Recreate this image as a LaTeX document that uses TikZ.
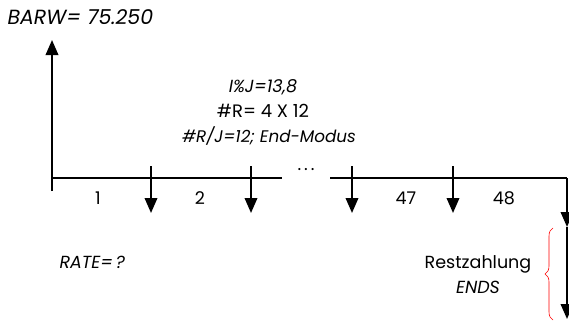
\documentclass[tikz,border=0pt]{standalone}
\usepackage{fontspec}
\setmainfont{Poppins}
\usepackage{xcolor}
\usepackage{tikz}
\usetikzlibrary{arrows.meta, positioning, decorations.pathreplacing}

\begin{document}
\begin{tikzpicture}[x=1pt, y=-1pt, font=\fontsize{17.5}{21}\selectfont,
  flow/.style={line width=2pt, -{Triangle[length=15pt,width=12.5pt]}},
  axis/.style={line width=1.3pt},
  txt/.style={text height=13pt, text depth=4pt}]
\useasboundingbox (0,0) rectangle (569,329);
% time line
\coordinate (t0) at (52,178);
\coordinate (tick) at (52,191);
\coordinate (g1) at (282,178);
\coordinate (g2) at (330,178);
\coordinate (tend) at (567,178);
\coordinate (top) at (52,40);
\draw[axis] (tick) -- (t0) -- (g1);
\draw[axis] (g2) -- (tend);
\node (dots) at (306,170) {.\,.\,.};
\draw[flow] (t0) -- (top);
\node (barw) [anchor=west, font=\fontsize{20.5}{24}\selectfont] at (4,17) {\itshape BARW= 75.250};
% payments
\foreach \x/\n in {151/a1, 251/a2, 352/a47, 453/a48}{
  \coordinate (\n s) at (\x,166);
  \coordinate (\n e) at (\x,213);
  \draw[flow] (\n s) -- (\n e);
}
\foreach \x/\t in {98/1, 200/2, 406/47, 504/48}{
  \node (p\t) at (\x,198) {\t};
}
% last payment and balloon
\coordinate (r1) at (567,227);
\coordinate (r2) at (567,319);
\draw[flow] (tend) -- (r1);
\draw[flow] (r1) -- (r2);
\draw[red, line width=0.6pt, decorate, decoration={brace, amplitude=8pt}]
  (553,320) -- (553,228);
% texts
\node (ipj) [txt] at (263,88) {\itshape I\%J=13,8};
\node (nr) [txt, below=1pt of ipj, font=\fontsize{18}{22}\selectfont] {\#R= 4 X 12};
\node (nrj) [txt, below=1pt of nr, xshift=6pt, font=\fontsize{16.8}{20}\selectfont] {\itshape \#R/J=12; End-Modus};
\node (rate) [anchor=west] at (56,262) {\itshape RATE=\,?};
\node (rest) [txt] at (478,264) {Restzahlung};
\node (ends) [txt, below=1pt of rest] {\itshape ENDS};
\end{tikzpicture}
\end{document}
